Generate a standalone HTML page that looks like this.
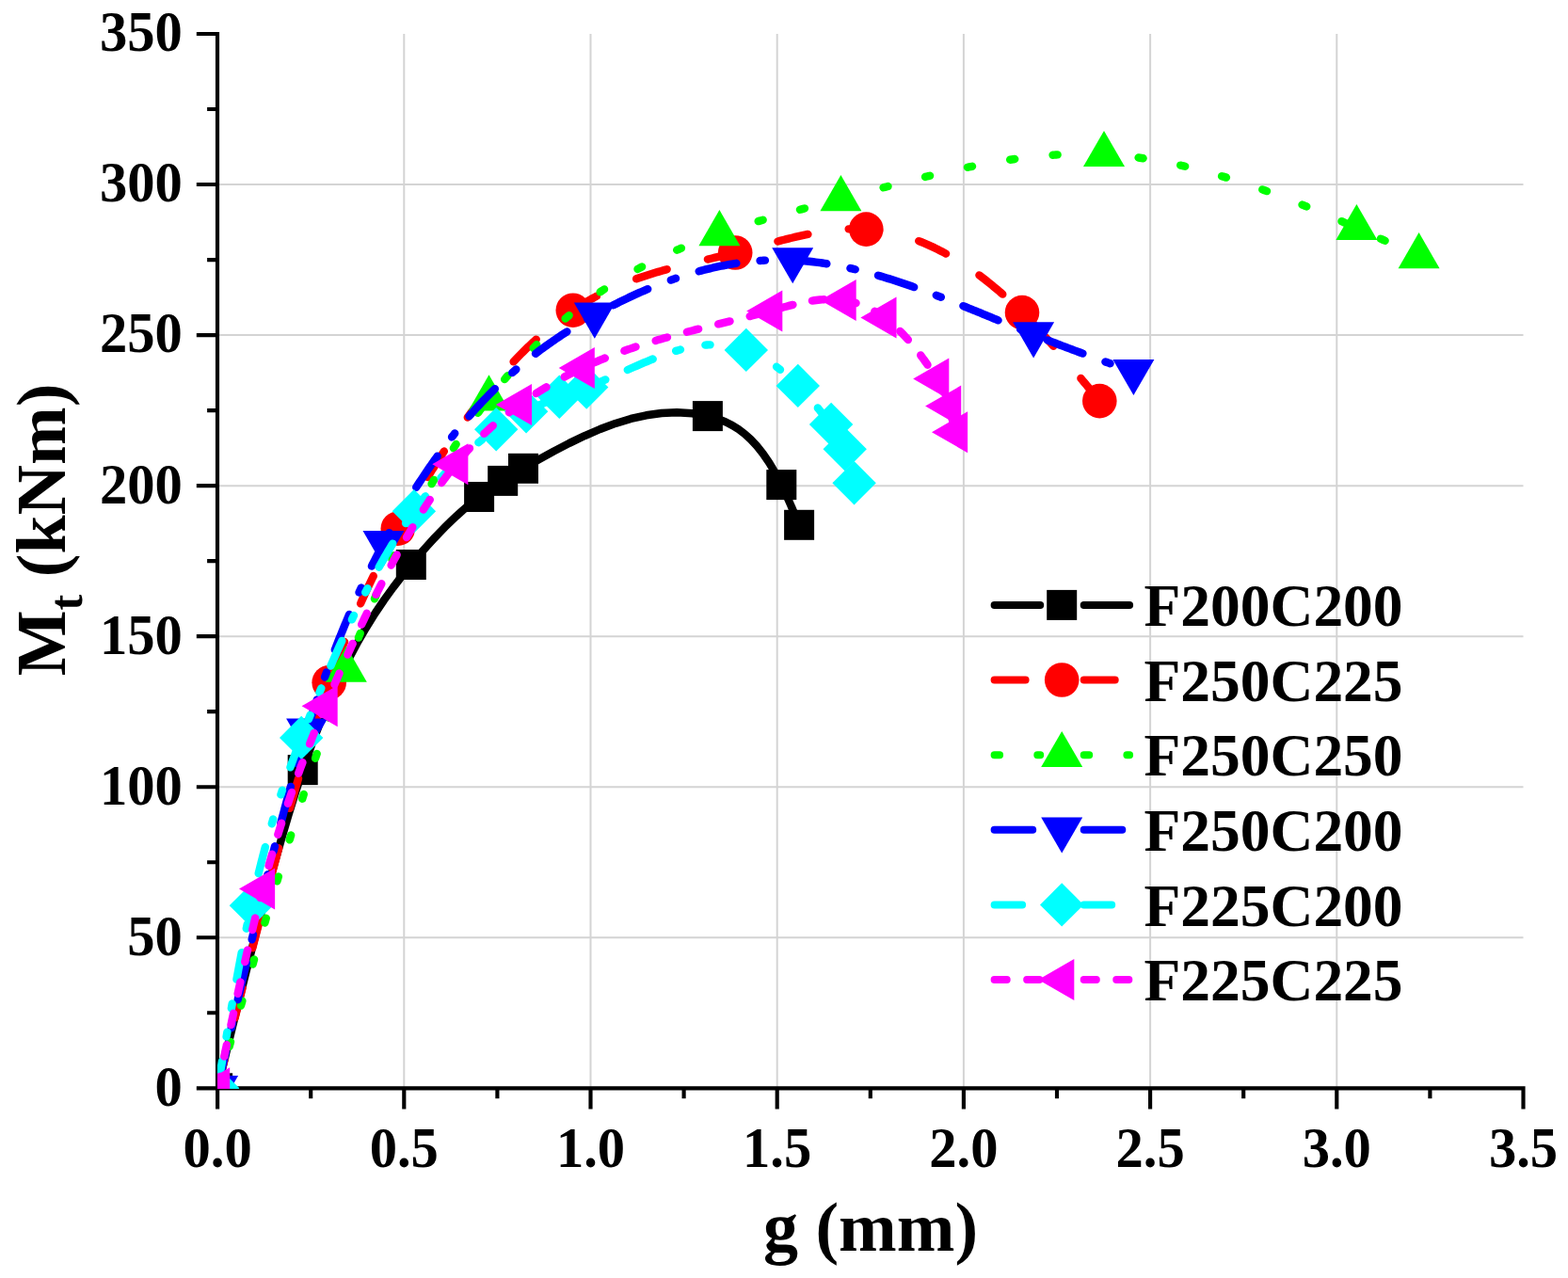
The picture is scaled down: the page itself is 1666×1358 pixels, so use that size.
<!DOCTYPE html>
<html lang="en"><head><meta charset="utf-8"><title>Mt vs g</title>
<style>html,body{margin:0;padding:0;background:#fff}body{width:1666px;height:1358px;overflow:hidden}svg{display:block}text{font-family:"Liberation Serif",serif;font-weight:bold;fill:#000}.tk{font-size:58.6px}.lg{font-size:63.5px}.ti{font-size:74px}</style></head><body>
<svg width="1666" height="1358" viewBox="0 0 1666 1358">
<rect width="1666" height="1358" fill="#fff"/>
<defs><clipPath id="pc"><rect x="231" y="36" width="1387.5" height="1121"/></clipPath></defs>
<path d="M429.3 36 V1156.3 M627.5 36 V1156.3 M825.7 36 V1156.3 M1023.9 36 V1156.3 M1222.1 36 V1156.3 M1420.3 36 V1156.3 M231.1 996.26 H1618.5 M231.1 836.21 H1618.5 M231.1 676.17 H1618.5 M231.1 516.13 H1618.5 M231.1 356.09 H1618.5 M231.1 196.04 H1618.5" stroke="#d4d4d4" stroke-width="2" fill="none"/>
<path d="M231 34 V1158.38 M229.03 1156.3 H1620.58 M231.1 1156.3 V1178.6 M330.2 1156.3 V1167.3 M429.3 1156.3 V1178.6 M528.4 1156.3 V1167.3 M627.5 1156.3 V1178.6 M726.6 1156.3 V1167.3 M825.7 1156.3 V1178.6 M924.8 1156.3 V1167.3 M1023.9 1156.3 V1178.6 M1123 1156.3 V1167.3 M1222.1 1156.3 V1178.6 M1321.2 1156.3 V1167.3 M1420.3 1156.3 V1178.6 M1519.4 1156.3 V1167.3 M1618.5 1156.3 V1178.6 M231.1 1156.3 H208.8 M231.1 1076.28 H220.1 M231.1 996.26 H208.8 M231.1 916.24 H220.1 M231.1 836.21 H208.8 M231.1 756.19 H220.1 M231.1 676.17 H208.8 M231.1 596.15 H220.1 M231.1 516.13 H208.8 M231.1 436.11 H220.1 M231.1 356.09 H208.8 M231.1 276.06 H220.1 M231.1 196.04 H208.8 M231.1 116.02 H220.1 M231.1 36 H208.8" stroke="#000" stroke-width="4.15" fill="none"/>
<text class="tk" transform="translate(231.1,1240.0) scale(1,1.04)" text-anchor="middle">0.0</text>
<text class="tk" transform="translate(429.3,1240.0) scale(1,1.04)" text-anchor="middle">0.5</text>
<text class="tk" transform="translate(627.5,1240.0) scale(1,1.04)" text-anchor="middle">1.0</text>
<text class="tk" transform="translate(825.7,1240.0) scale(1,1.04)" text-anchor="middle">1.5</text>
<text class="tk" transform="translate(1023.9,1240.0) scale(1,1.04)" text-anchor="middle">2.0</text>
<text class="tk" transform="translate(1222.1,1240.0) scale(1,1.04)" text-anchor="middle">2.5</text>
<text class="tk" transform="translate(1420.3,1240.0) scale(1,1.04)" text-anchor="middle">3.0</text>
<text class="tk" transform="translate(1618.5,1240.0) scale(1,1.04)" text-anchor="middle">3.5</text>
<text class="tk" transform="translate(193.8,1174.7) scale(1,1.04)" text-anchor="end">0</text>
<text class="tk" transform="translate(193.8,1014.66) scale(1,1.04)" text-anchor="end">50</text>
<text class="tk" transform="translate(193.8,854.61) scale(1,1.04)" text-anchor="end">100</text>
<text class="tk" transform="translate(193.8,694.57) scale(1,1.04)" text-anchor="end">150</text>
<text class="tk" transform="translate(193.8,534.53) scale(1,1.04)" text-anchor="end">200</text>
<text class="tk" transform="translate(193.8,374.49) scale(1,1.04)" text-anchor="end">250</text>
<text class="tk" transform="translate(193.8,214.44) scale(1,1.04)" text-anchor="end">300</text>
<text class="tk" transform="translate(193.8,54.4) scale(1,1.04)" text-anchor="end">350</text>
<text class="ti" x="925" y="1329.2" text-anchor="middle">g (mm)</text>
<text class="ti" transform="translate(68.7,563) rotate(-90)" text-anchor="middle">M<tspan dy="18" font-size="50px">t</tspan><tspan dy="-18"> (kNm)</tspan></text>
<g clip-path="url(#pc)">
<path d="M231.1 1156.3 L238.65 1125.25 L246.2 1094.31 L253.75 1063.62 L261.3 1033.29 L268.85 1003.44 L276.4 974.19 L283.95 945.67 L291.5 917.99 L299.05 891.27 L306.6 865.63 L314.15 841.2 L321.7 818.1 L331.29 790.78 L340.88 765.64 L350.48 742.52 L360.07 721.27 L369.66 701.74 L379.25 683.76 L388.84 667.19 L398.43 651.87 L408.02 637.65 L417.62 624.37 L427.21 611.87 L436.8 600 L442.82 592.81 L448.85 585.81 L454.88 579.01 L460.9 572.42 L466.93 566.05 L472.95 559.9 L478.98 553.97 L485 548.28 L491.03 542.83 L497.05 537.63 L503.08 532.68 L509.1 528 L511.19 526.44 L513.28 524.9 L515.38 523.4 L517.47 521.92 L519.56 520.47 L521.65 519.04 L523.74 517.64 L525.83 516.25 L527.93 514.89 L530.02 513.54 L532.11 512.22 L534.2 510.9 L536.02 509.77 L537.83 508.65 L539.65 507.53 L541.47 506.43 L543.28 505.33 L545.1 504.24 L546.92 503.15 L548.73 502.07 L550.55 501 L552.37 499.93 L554.18 498.86 L556 497.8 L572.33 488.4 L588.65 479.37 L604.98 470.86 L621.3 463.02 L637.62 455.99 L653.95 449.92 L670.27 444.97 L686.6 441.28 L702.92 439 L719.25 438.28 L735.58 439.26 L751.9 442.1 L758.43 443.81 L764.97 445.94 L771.5 448.62 L778.03 451.95 L784.57 456.03 L791.1 460.99 L797.63 466.92 L804.17 473.94 L810.7 482.16 L817.23 491.69 L823.77 502.63 L830.3 515.1 L831.87 518.33 L833.43 521.64 L835 525.03 L836.57 528.5 L838.13 532.02 L839.7 535.6 L841.27 539.23 L842.83 542.9 L844.4 546.6 L845.97 550.32 L847.53 554.05 L849.1 557.8" stroke="#000000" stroke-width="8.4" fill="none" stroke-linecap="round" stroke-linejoin="round"/>
<rect x="215.1" y="1140.3" width="32" height="32" fill="#000000"/>
<rect x="305.7" y="802.1" width="32" height="32" fill="#000000"/>
<rect x="420.8" y="584" width="32" height="32" fill="#000000"/>
<rect x="493.1" y="512" width="32" height="32" fill="#000000"/>
<rect x="518.2" y="494.9" width="32" height="32" fill="#000000"/>
<rect x="540" y="481.8" width="32" height="32" fill="#000000"/>
<rect x="735.9" y="426.1" width="32" height="32" fill="#000000"/>
<rect x="814.3" y="499.1" width="32" height="32" fill="#000000"/>
<rect x="833.1" y="541.8" width="32" height="32" fill="#000000"/>
<path d="M231.1 1156.3 L231.66 1154.03 L232.22 1151.76 L232.79 1149.48 L233.35 1147.21 L233.91 1144.94 L234.47 1142.67 L235.03 1140.39 L235.6 1138.12 L236.16 1135.85 L236.72 1133.58 L237.28 1131.3 L237.85 1129.03 L238.41 1126.76 L238.97 1124.49 M249.58 1081.75 L250.15 1079.48 L250.71 1077.21 L251.28 1074.94 L251.85 1072.67 L252.41 1070.4 L252.98 1068.13 L253.55 1065.86 L254.12 1063.59 L254.68 1061.31 L255.25 1059.04 L255.82 1056.77 L256.39 1054.5 L256.96 1052.23 L257.53 1049.96 M268.33 1007.27 L268.9 1005.01 L269.48 1002.74 L270.06 1000.47 L270.64 998.2 L271.22 995.94 L271.8 993.67 L272.39 991.4 L272.97 989.13 L273.55 986.87 L274.14 984.6 L274.72 982.33 L275.3 980.07 L275.89 977.8 L276.48 975.53 M287.64 932.94 L288.24 930.68 L288.84 928.42 L289.44 926.15 L290.05 923.89 L290.65 921.63 L291.26 919.37 L291.87 917.11 L292.47 914.85 L293.08 912.59 L293.69 910.33 L294.3 908.07 L294.92 905.81 L295.53 903.55 L296.14 901.29 M307.91 858.86 L308.55 856.61 L309.19 854.36 L309.84 852.11 L310.48 849.86 L311.12 847.61 L311.77 845.36 L312.42 843.11 L313.07 840.86 L313.72 838.61 L314.37 836.36 L315.03 834.12 L315.68 831.87 L316.34 829.62 L317 827.38 M329.77 785.24 L330.47 783.01 L331.17 780.77 L331.88 778.54 L332.58 776.31 L333.29 774.08 L334.01 771.85 L334.72 769.62 L335.44 767.39 L336.16 765.17 L336.89 762.94 L337.61 760.71 L338.34 758.49 L339.08 756.27 L339.81 754.04 M354.3 712.47 L355.1 710.27 L355.92 708.07 L356.73 705.88 L357.56 703.69 L358.38 701.5 L359.21 699.31 L360.04 697.12 L360.88 694.94 L361.73 692.75 L362.57 690.57 L363.43 688.39 L364.28 686.21 L365.14 684.04 L366.01 681.86 M383.12 641.36 L384.14 639.09 L385.16 636.82 L386.19 634.56 L387.22 632.3 L388.26 630.04 L389.31 627.79 L390.36 625.53 L391.41 623.28 L392.47 621.03 L393.54 618.79 L394.61 616.55 L395.69 614.3 L396.77 612.07 M416.6 573.17 L417.7 571.12 L418.8 569.08 L419.9 567.03 L421.01 564.99 L422.12 562.95 L423.23 560.91 L424.35 558.87 L425.47 556.84 L426.59 554.81 L427.72 552.78 L428.85 550.75 L429.98 548.72 L431.12 546.69 L432.26 544.67 M454.4 507.01 L455.62 505.03 L456.84 503.06 L458.06 501.08 L459.29 499.11 L460.53 497.14 L461.76 495.18 L463.01 493.21 L464.25 491.25 L465.5 489.3 L466.76 487.34 L468.02 485.39 L469.28 483.44 L470.55 481.5 L471.83 479.55 M496.82 443.5 L498.2 441.62 L499.59 439.75 L500.98 437.87 L502.38 436.01 L503.78 434.15 L505.2 432.29 L506.61 430.43 L508.04 428.59 L509.47 426.74 L510.9 424.9 L512.34 423.07 L513.79 421.24 L515.25 419.41 L516.71 417.6 M545.61 384.35 L547.28 382.6 L548.95 380.85 L550.63 379.11 L552.32 377.38 L554.02 375.66 L555.73 373.94 L557.44 372.24 L559.17 370.55 L560.91 368.86 L562.65 367.19 L564.41 365.52 L566.17 363.86 L567.94 362.22 L569.73 360.58 M605.11 332.22 L607.1 330.85 L609.1 329.5 L611.11 328.17 L613.13 326.85 L615.16 325.56 L617.21 324.28 L619.26 323.01 L621.33 321.77 L623.41 320.54 L625.49 319.33 L627.59 318.14 L629.7 316.97 L631.82 315.81 L633.94 314.67 M676.13 296.3 L678.42 295.49 L680.72 294.7 L683.02 293.92 L685.33 293.16 L687.65 292.41 L689.96 291.68 L692.29 290.95 L694.61 290.24 L696.94 289.55 L699.27 288.86 L701.61 288.19 L703.95 287.52 L706.29 286.87 L708.63 286.22 M751.95 275.54 L754.24 275.01 L756.52 274.48 L758.8 273.94 L761.08 273.4 L763.36 272.86 L765.64 272.32 L767.92 271.77 L770.2 271.22 L772.47 270.67 L774.75 270.11 L777.02 269.55 L779.3 268.98 L781.57 268.41 L783.84 267.83 M826.43 256.47 L828.71 255.88 L830.98 255.3 L833.25 254.72 L835.53 254.15 L837.81 253.59 L840.09 253.03 L842.37 252.48 L844.66 251.94 L846.94 251.42 L849.23 250.9 L851.52 250.39 L853.82 249.9 L856.11 249.41 L858.41 248.94 M901.68 243.41 L904 243.33 L906.32 243.28 L908.65 243.26 L910.97 243.27 L913.3 243.31 L915.62 243.37 L917.95 243.47 L920.27 243.6 L922.59 243.76 L924.91 243.95 L927.22 244.17 L929.53 244.42 L931.84 244.7 L934.14 245.02 M976.25 256.14 L978.53 257.03 L980.8 257.95 L983.06 258.89 L985.31 259.86 L987.54 260.85 L989.77 261.86 L991.99 262.9 L994.19 263.96 L996.39 265.04 L998.57 266.14 L1000.75 267.27 L1002.91 268.41 L1005.06 269.58 M1040.4 292.43 L1042.37 293.91 L1044.33 295.41 L1046.29 296.91 L1048.23 298.43 L1050.16 299.97 L1052.09 301.51 L1054 303.07 L1055.9 304.64 L1057.8 306.22 L1059.68 307.82 L1061.56 309.42 L1063.42 311.04 L1065.28 312.67 M1097.05 343.4 L1098.67 345.11 L1100.29 346.82 L1101.9 348.54 L1103.5 350.27 L1105.1 351.99 L1106.69 353.73 L1108.28 355.47 L1109.87 357.21 L1111.44 358.96 L1113.02 360.71 L1114.59 362.47 L1116.15 364.23 L1117.71 365.99 L1119.27 367.76 M1148.41 402 L1149.95 403.85 L1151.48 405.7 L1153.02 407.55 L1154.55 409.4 L1156.08 411.25 L1157.61 413.11 L1159.14 414.96 L1160.66 416.82 L1162.19 418.67 L1163.72 420.53 L1165.25 422.39 L1166.77 424.24 L1168.3 426.1" stroke="#ff0000" stroke-width="8.4" fill="none" stroke-linecap="round" stroke-linejoin="round"/>
<circle cx="231.1" cy="1156.3" r="18.3" fill="#ff0000"/>
<circle cx="349.7" cy="725.2" r="18.3" fill="#ff0000"/>
<circle cx="422.8" cy="561.7" r="18.3" fill="#ff0000"/>
<circle cx="608.8" cy="329.7" r="18.3" fill="#ff0000"/>
<circle cx="781.2" cy="268.5" r="18.3" fill="#ff0000"/>
<circle cx="920.3" cy="243.6" r="18.3" fill="#ff0000"/>
<circle cx="1086" cy="332.1" r="18.3" fill="#ff0000"/>
<circle cx="1168.3" cy="426.1" r="18.3" fill="#ff0000"/>
<path d="M231.1 1156.3 L231.57 1154.65 L232.03 1153.01 L232.5 1151.36 M243.63 1112.03 L244.09 1110.4 L244.56 1108.76 L245.02 1107.13 M256.01 1068.48 L256.47 1066.85 L256.94 1065.22 L257.4 1063.6 M268.62 1024.47 L269.09 1022.84 L269.56 1021.2 L270.03 1019.57 M281.35 980.59 L281.83 978.95 L282.31 977.32 L282.79 975.68 M294.41 936.34 L294.9 934.7 L295.39 933.06 L295.88 931.42 M307.69 892.36 L308.19 890.73 L308.69 889.11 L309.18 887.48 M321.21 848.86 L321.72 847.25 L322.23 845.64 L322.74 844.02 M335.08 805.77 L335.61 804.17 L336.14 802.56 L336.66 800.96 M349.56 762.76 L350.11 761.17 L350.66 759.57 L351.21 757.98 M364.77 720 L365.35 718.42 L365.93 716.84 L366.52 715.25 M380.93 677.6 L381.55 676.04 L382.17 674.49 L382.79 672.93 M397.95 636.31 L398.61 634.78 L399.28 633.25 L399.94 631.71 M416.57 594.86 L417.29 593.33 L418.01 591.8 L418.74 590.27 M436.72 554.06 L437.5 552.56 L438.28 551.06 L439.07 549.56 M458.59 514.15 L459.84 511.99 L461.1 509.84 M481.89 476.19 L482.8 474.8 L483.71 473.4 L484.63 472.01 M507.83 438.82 L508.84 437.46 L509.86 436.1 L510.87 434.74 M536.15 403.1 L537.24 401.82 L538.33 400.54 L539.43 399.26 M566.61 369.87 L567.81 368.66 L569.02 367.46 L570.22 366.26 M600.66 338.46 L601.98 337.35 L603.31 336.24 L604.64 335.14 M637.68 310.31 L639.11 309.33 L640.55 308.36 L641.99 307.39 M677.52 285.93 L679.04 285.1 L680.56 284.28 L682.09 283.47 M719.18 265.71 L720.76 265.04 L722.34 264.37 L723.91 263.7 M761.99 249.14 L763.6 248.58 L765.22 248.02 L766.83 247.46 M805.69 235.13 L807.33 234.65 L808.97 234.17 L810.61 233.69 M849.96 222.76 L851.6 222.32 L853.25 221.88 L854.9 221.44 M894.27 211.07 L895.92 210.63 L897.57 210.2 L899.22 209.76 M938.57 199.31 L940.22 198.88 L941.87 198.44 L943.52 198.01 M983.08 187.94 L984.74 187.54 L986.4 187.14 L988.06 186.74 M1027.98 177.78 L1029.65 177.44 L1031.33 177.1 L1033.01 176.76 M1073.16 169.74 L1074.85 169.49 L1076.53 169.25 L1078.22 169.01 M1118.55 164.75 L1120.25 164.64 L1121.94 164.53 L1123.64 164.42 M1164.15 163.75 L1165.84 163.8 L1167.54 163.86 L1169.23 163.93 M1209.59 167.51 L1211.26 167.74 L1212.94 167.98 L1214.61 168.22 M1254.22 175.59 L1255.86 175.97 L1257.51 176.34 L1259.15 176.73 M1298.1 187.15 L1299.72 187.64 L1301.34 188.13 L1302.95 188.62 M1341.28 201.4 L1342.87 201.98 L1344.45 202.55 L1346.04 203.13 M1383.55 217.56 L1385.12 218.2 L1386.68 218.83 L1388.24 219.47 M1425.53 235.22 L1427.08 235.9 L1428.63 236.57 L1430.18 237.25 M1466.98 253.7 L1468.52 254.4 L1470.07 255.1 L1471.61 255.8" stroke="#00ff00" stroke-width="8.4" fill="none" stroke-linecap="round" stroke-linejoin="round"/>
<polygon points="231.1,1131.1 209.1,1169.2 253.1,1169.2" fill="#00ff00"/>
<polygon points="367.8,686.6 345.8,724.7 389.8,724.7" fill="#00ff00"/>
<polygon points="519.5,398.3 497.5,436.4 541.5,436.4" fill="#00ff00"/>
<polygon points="764.4,223.1 742.4,261.2 786.4,261.2" fill="#00ff00"/>
<polygon points="893.4,186.1 871.4,224.2 915.4,224.2" fill="#00ff00"/>
<polygon points="1173,138.9 1151,177 1195,177" fill="#00ff00"/>
<polygon points="1441.4,217 1419.4,255.1 1463.4,255.1" fill="#00ff00"/>
<polygon points="1507.6,247.1 1485.6,285.2 1529.6,285.2" fill="#00ff00"/>
<path d="M231.1 1156.3 L231.63 1153.99 L232.15 1151.69 L232.68 1149.38 L233.21 1147.08 L233.73 1144.77 L234.26 1142.47 L234.79 1140.16 L235.31 1137.85 L235.84 1135.55 L236.37 1133.24 L236.9 1130.94 L237.42 1128.63 L237.95 1126.33 L238.48 1124.02 L239 1121.72 L239.53 1119.41 L240.06 1117.11 M245.75 1092.3 L246.15 1090.54 L246.56 1088.79 L246.96 1087.03 M252.68 1062.23 L253.22 1059.93 L253.75 1057.62 L254.29 1055.32 L254.82 1053.02 L255.36 1050.71 L255.89 1048.41 L256.43 1046.1 L256.96 1043.8 L257.5 1041.5 L258.04 1039.19 L258.58 1036.89 L259.11 1034.59 L259.65 1032.29 L260.19 1029.98 L260.73 1027.68 L261.27 1025.38 L261.81 1023.07 M267.66 998.3 L268.08 996.55 L268.5 994.8 L268.91 993.05 M274.85 968.3 L275.41 966 L275.97 963.7 L276.53 961.4 L277.08 959.1 L277.64 956.81 L278.2 954.51 L278.77 952.21 L279.33 949.91 L279.89 947.62 L280.46 945.32 L281.02 943.02 L281.59 940.73 L282.15 938.43 L282.72 936.14 L283.29 933.84 L283.86 931.54 L284.43 929.25 M290.64 904.57 L291.09 902.82 L291.53 901.08 L291.98 899.33 M298.37 874.69 L298.97 872.41 L299.57 870.12 L300.18 867.83 L300.79 865.55 L301.4 863.26 L302.01 860.98 L302.62 858.69 L303.23 856.41 L303.85 854.13 L304.46 851.84 L305.08 849.56 L305.7 847.28 L306.33 845 L306.95 842.72 L307.58 840.43 L308.2 838.15 L308.83 835.88 M315.75 811.38 L316.25 809.65 L316.75 807.92 L317.26 806.19 M324.53 781.8 L325.22 779.54 L325.92 777.28 L326.62 775.02 L327.32 772.76 L328.03 770.51 L328.74 768.25 L329.45 765.99 L330.17 763.74 L330.89 761.49 L331.62 759.24 L332.34 756.99 L333.07 754.74 L333.81 752.49 L334.55 750.24 L335.29 748 L336.04 745.75 L336.79 743.51 M345.1 719.45 L345.7 717.76 L346.31 716.06 L346.92 714.37 M355.83 690.5 L356.69 688.28 L357.55 686.06 L358.42 683.84 L359.29 681.62 L360.17 679.4 L361.06 677.19 L361.94 674.98 L362.84 672.77 L363.73 670.56 L364.64 668.35 L365.54 666.15 L366.46 663.95 L367.37 661.75 L368.3 659.55 L369.22 657.35 L370.16 655.16 L371.09 652.97 M381.53 629.5 L382.29 627.86 L383.05 626.21 L383.81 624.57 M394.93 601.58 L395.98 599.47 L397.05 597.37 L398.11 595.27 L399.19 593.17 L400.26 591.07 L401.35 588.98 L402.44 586.88 L403.53 584.79 L404.63 582.71 L405.73 580.62 L406.84 578.54 L407.95 576.46 L409.07 574.39 L410.19 572.31 L411.32 570.24 L412.45 568.17 L413.59 566.11 M426.15 544.06 L427.06 542.52 L427.98 540.97 L428.9 539.43 M442.25 517.85 L443.52 515.86 L444.8 513.88 L446.09 511.91 L447.38 509.94 L448.68 507.97 L449.99 506.01 L451.3 504.05 L452.62 502.09 L453.95 500.14 L455.28 498.2 L456.62 496.26 L457.96 494.32 L459.31 492.39 L460.67 490.46 L462.04 488.54 L463.41 486.62 L464.79 484.71 M480.07 464.45 L481.12 463.12 L482.18 461.79 L483.24 460.46 M498.46 442.26 L500.1 440.39 L501.75 438.52 L503.42 436.66 L505.09 434.81 L506.77 432.97 L508.46 431.13 L510.15 429.3 L511.86 427.49 L513.58 425.67 L515.3 423.87 L517.03 422.08 L518.78 420.29 L520.53 418.52 L522.29 416.75 L524.05 414.99 L525.83 413.24 M544.26 396.13 L545.63 394.92 L547.01 393.73 L548.39 392.53 M568.99 375.82 L570.9 374.37 L572.82 372.92 L574.75 371.49 L576.68 370.06 L578.62 368.65 L580.57 367.25 L582.52 365.85 L584.48 364.47 L586.45 363.09 L588.42 361.72 L590.41 360.37 L592.39 359.02 L594.39 357.69 L596.39 356.36 L598.4 355.04 L600.41 353.73 L602.43 352.44 M624.35 339.13 L625.92 338.23 L627.49 337.33 L629.06 336.44 M651.6 324.29 L653.72 323.21 L655.84 322.14 L657.97 321.08 L660.1 320.02 L662.24 318.98 L664.38 317.94 L666.52 316.91 L668.67 315.89 L670.83 314.89 L672.99 313.89 L675.15 312.9 L677.32 311.92 L679.49 310.95 L681.67 309.99 L683.85 309.04 L686.03 308.1 L688.22 307.17 M712.82 297.62 L714.56 297 L716.3 296.4 L718.04 295.8 M742.68 288.25 L744.99 287.63 L747.3 287.02 L749.62 286.43 L751.94 285.86 L754.27 285.3 L756.6 284.75 L758.93 284.22 L761.27 283.71 L763.61 283.21 L765.95 282.73 L768.29 282.26 L770.64 281.81 L773 281.38 L775.35 280.96 L777.71 280.56 L780.07 280.18 L782.43 279.81 M807.54 276.99 L809.33 276.87 L811.11 276.76 L812.9 276.66 M838.35 276.35 L840.71 276.44 L843.07 276.54 L845.44 276.66 L847.8 276.8 L850.16 276.96 L852.51 277.14 L854.87 277.33 L857.23 277.55 L859.58 277.78 L861.93 278.03 L864.28 278.29 L866.63 278.57 L868.98 278.87 L871.32 279.19 L873.66 279.52 L876 279.86 L878.34 280.23 M903.42 285.06 L905.17 285.45 L906.91 285.86 L908.66 286.27 M933.02 292.72 L935.28 293.39 L937.54 294.06 L939.8 294.74 L942.05 295.43 L944.31 296.13 L946.55 296.83 L948.8 297.55 L951.05 298.27 L953.29 299 L955.53 299.74 L957.76 300.48 L960 301.24 L962.23 302 L964.46 302.76 L966.69 303.53 L968.92 304.31 L971.14 305.1 M994.79 313.83 L996.46 314.47 L998.13 315.11 L999.8 315.75 M1023.41 325.11 L1025.6 325.99 L1027.79 326.88 L1029.98 327.77 L1032.16 328.66 L1034.35 329.55 L1036.53 330.44 L1038.72 331.34 L1040.9 332.24 L1043.08 333.13 L1045.27 334.03 L1047.45 334.93 L1049.63 335.83 L1051.81 336.73 L1054 337.63 L1056.18 338.52 L1058.36 339.42 L1060.54 340.32 M1084.1 349.97 L1085.77 350.65 L1087.44 351.32 L1089.11 352 M1112.79 361.37 L1114.99 362.23 L1117.2 363.08 L1119.41 363.93 L1121.62 364.78 L1123.83 365.62 L1126.04 366.47 L1128.25 367.31 L1130.46 368.15 L1132.68 368.99 L1134.89 369.82 L1137.1 370.66 L1139.32 371.49 L1141.53 372.32 L1143.75 373.15 L1145.97 373.97 L1148.19 374.8 L1150.4 375.62 M1174.42 384.44 L1176.12 385.06 L1177.82 385.67 L1179.51 386.29 M1203.44 394.95 L1204.4 395.3" stroke="#0000ff" stroke-width="8.4" fill="none" stroke-linecap="round" stroke-linejoin="round"/>
<polygon points="231.1,1181.1 209.1,1143 253.1,1143" fill="#0000ff"/>
<polygon points="326.1,801.5 304.1,763.4 348.1,763.4" fill="#0000ff"/>
<polygon points="407.5,602.1 385.5,564 429.5,564" fill="#0000ff"/>
<polygon points="631.8,359.7 609.8,321.6 653.8,321.6" fill="#0000ff"/>
<polygon points="842.2,301.3 820.2,263.2 864.2,263.2" fill="#0000ff"/>
<polygon points="1098.1,380.4 1076.1,342.3 1120.1,342.3" fill="#0000ff"/>
<polygon points="1204.4,420.1 1182.4,382 1226.4,382" fill="#0000ff"/>
<path d="M231.1 1156.3 L231.51 1153.89 L231.93 1151.47 L232.34 1149.06 L232.76 1146.65 L233.17 1144.23 L233.59 1141.82 L234 1139.41 L234.42 1136.99 L234.83 1134.58 L235.25 1132.17 L235.66 1129.75 L236.08 1127.34 M240.54 1101.62 L240.96 1099.2 L241.38 1096.78 M245.85 1071.41 L246.28 1068.98 L246.72 1066.55 M251.41 1040.67 L251.85 1038.29 L252.29 1035.91 L252.73 1033.53 L253.17 1031.15 L253.61 1028.78 L254.06 1026.4 L254.51 1024.02 L254.96 1021.64 L255.41 1019.26 L255.86 1016.89 L256.31 1014.51 L256.77 1012.13 M261.78 986.7 L262.26 984.34 L262.74 981.97 M267.96 957.34 L268.47 955.01 L268.99 952.68 M274.71 928.09 L275.28 925.74 L275.85 923.4 L276.43 921.06 L277.02 918.71 L277.61 916.37 L278.2 914.03 L278.8 911.7 L279.4 909.36 L280.01 907.02 L280.62 904.69 L281.23 902.35 L281.86 900.02 M288.78 875.3 L289.48 872.92 L290.19 870.53 M298.39 844.38 L299.17 842.02 L299.95 839.66 M308.41 815.33 L309.24 813.06 L310.06 810.79 L310.89 808.52 L311.73 806.25 L312.57 803.99 L313.42 801.72 L314.26 799.46 L315.12 797.2 L315.97 794.94 L316.83 792.68 L317.69 790.42 L318.56 788.17 M327.93 764.17 L328.83 761.91 L329.73 759.64 M339.44 735.78 L340.38 733.53 L341.32 731.27 M351.42 707.57 L352.39 705.34 L353.37 703.11 L354.35 700.88 L355.33 698.65 L356.32 696.43 L357.31 694.21 L358.3 691.99 L359.29 689.77 L360.29 687.55 L361.3 685.33 L362.3 683.12 L363.31 680.9 M373.89 658.35 L374.95 656.15 L376.01 653.97 M388.25 629.49 L389.38 627.31 L390.51 625.14 M402.63 602.69 L403.81 600.59 L404.99 598.49 L406.18 596.39 L407.38 594.3 L408.58 592.21 L409.8 590.13 L411.01 588.05 L412.24 585.97 L413.47 583.9 L414.71 581.83 L415.95 579.76 L417.21 577.7 M431.07 556.02 L432.44 554 L433.81 551.99 M448.93 531.16 L450.43 529.23 L451.93 527.31 M468.54 507.65 L470.17 505.86 L471.8 504.09 L473.45 502.33 L475.12 500.57 L476.79 498.83 L478.48 497.1 L480.17 495.39 L481.89 493.68 L483.61 491.99 L485.34 490.31 L487.09 488.64 L488.85 486.99 M508.34 470.19 L510.26 468.68 L512.19 467.18 M533.19 452.31 L535.24 450.99 L537.3 449.68 M559.65 436.92 L561.8 435.83 L563.96 434.75 L566.13 433.69 L568.31 432.65 L570.5 431.63 L572.7 430.63 L574.9 429.64 L577.11 428.68 L579.33 427.73 L581.56 426.79 L583.79 425.87 L586.03 424.97 M610.22 416.16 L612.52 415.35 L614.82 414.54 M638.82 405.25 L641.07 404.3 L643.31 403.34 M666.81 392.97 L669.03 391.99 L671.26 391 L673.49 390.02 L675.72 389.04 L677.96 388.07 L680.2 387.11 L682.44 386.15 L684.68 385.2 L686.93 384.26 L689.18 383.33 L691.44 382.41 L693.7 381.5 M718.15 372.89 L720.55 372.19 L722.96 371.53 M749.38 366.66 L751.1 366.53 L752.82 366.42 L754.55 366.33 M780.94 368.5 L783.29 369.04 L785.62 369.64 L787.93 370.3 L790.23 371.02 L792.51 371.8 L794.77 372.63 L797 373.51 L799.22 374.45 L801.42 375.43 L803.59 376.47 M825.07 389.77 L827.04 391.27 L828.98 392.8 M848.26 410.37 L849.98 412.15 L851.68 413.95 M868.86 433.54 L870.41 435.41 L871.95 437.28 L873.49 439.15 L875.03 441.03 L876.56 442.91 L878.09 444.79 L879.61 446.68 L881.14 448.56 L882.66 450.45 L884.18 452.34 L885.68 454.25 L887.14 456.18 M898.41 479.32 L899.16 481.65 L899.87 484 M906.52 508.97 L907.06 511.14 L907.6 513.3" stroke="#00ffff" stroke-width="8.4" fill="none" stroke-linecap="round" stroke-linejoin="round"/>
<polygon points="207.9,1156.3 231.1,1133.1 254.3,1156.3 231.1,1179.5" fill="#00ffff"/>
<polygon points="243.7,962.2 266.9,939 290.1,962.2 266.9,985.4" fill="#00ffff"/>
<polygon points="297,783.9 320.2,760.7 343.4,783.9 320.2,807.1" fill="#00ffff"/>
<polygon points="416.7,543.3 439.9,520.1 463.1,543.3 439.9,566.5" fill="#00ffff"/>
<polygon points="504,456.3 527.2,433.1 550.4,456.3 527.2,479.5" fill="#00ffff"/>
<polygon points="535.9,437.2 559.1,414 582.3,437.2 559.1,460.4" fill="#00ffff"/>
<polygon points="571.1,421.8 594.3,398.6 617.5,421.8 594.3,445" fill="#00ffff"/>
<polygon points="600,411.5 623.2,388.3 646.4,411.5 623.2,434.7" fill="#00ffff"/>
<polygon points="769.6,371.9 792.8,348.7 816,371.9 792.8,395.1" fill="#00ffff"/>
<polygon points="824.6,409.9 847.8,386.7 871,409.9 847.8,433.1" fill="#00ffff"/>
<polygon points="859.9,451 883.1,427.8 906.3,451 883.1,474.2" fill="#00ffff"/>
<polygon points="874.5,477.2 897.7,454 920.9,477.2 897.7,500.4" fill="#00ffff"/>
<polygon points="884.4,513.3 907.6,490.1 930.8,513.3 907.6,536.5" fill="#00ffff"/>
<path d="M231.1 1156.3 L231.54 1154.23 L231.98 1152.17 L232.41 1150.1 L232.85 1148.03 L233.29 1145.97 L233.73 1143.9 M238.25 1122.57 L238.69 1120.51 L239.13 1118.45 L239.57 1116.39 L240 1114.34 L240.44 1112.28 L240.88 1110.22 M245.42 1089.06 L245.86 1087.02 L246.3 1084.98 L246.74 1082.94 L247.18 1080.9 L247.62 1078.86 L248.06 1076.82 M252.64 1055.87 L253.1 1053.81 L253.55 1051.76 L254.01 1049.7 L254.46 1047.64 L254.92 1045.59 L255.38 1043.53 M260.22 1022.03 L260.69 1019.94 L261.17 1017.86 L261.65 1015.78 L262.12 1013.69 L262.6 1011.61 L263.09 1009.53 M268.14 988.05 L268.64 985.96 L269.14 983.88 L269.64 981.8 L270.14 979.71 L270.65 977.63 L271.16 975.55 M276.55 953.98 L277.08 951.89 L277.62 949.81 L278.16 947.72 L278.7 945.64 L279.25 943.55 L279.8 941.47 M285.62 920.01 L286.2 917.96 L286.77 915.91 L287.35 913.87 L287.94 911.82 L288.52 909.77 L289.11 907.72 M295.32 886.84 L295.94 884.82 L296.57 882.79 L297.19 880.77 L297.82 878.75 L298.46 876.73 L299.1 874.71 M305.91 853.83 L306.58 851.84 L307.25 849.85 L307.92 847.87 L308.6 845.88 L309.29 843.9 L309.97 841.91 M317.15 821.79 L318.01 819.47 L318.86 817.15 L319.73 814.84 L320.59 812.52 L321.46 810.21 M329.09 790.47 L330.01 788.15 L330.93 785.83 L331.86 783.52 L332.79 781.2 L333.72 778.88 M342.01 758.76 L342.82 756.81 L343.63 754.87 L344.45 752.92 L345.27 750.98 L346.09 749.04 L346.91 747.1 M355.48 727.09 L356.32 725.15 L357.16 723.22 L358 721.29 L358.84 719.35 L359.69 717.42 L360.54 715.49 M369.38 695.6 L370.26 693.64 L371.15 691.69 L372.03 689.73 L372.92 687.78 L373.81 685.82 L374.71 683.87 M384.18 663.49 L385.1 661.54 L386.03 659.58 L386.96 657.63 L387.89 655.68 L388.83 653.73 L389.76 651.78 M399.54 631.84 L400.5 629.92 L401.46 627.99 L402.43 626.07 L403.4 624.15 L404.38 622.23 L405.36 620.32 M415.64 600.61 L416.63 598.76 L417.62 596.92 L418.61 595.07 L419.61 593.23 L420.62 591.39 L421.62 589.55 M432.04 571.01 L433.09 569.2 L434.13 567.4 L435.19 565.6 L436.24 563.8 L437.3 562.01 L438.37 560.22 M449.84 541.57 L450.98 539.79 L452.13 538.01 L453.28 536.23 L454.44 534.46 L455.6 532.69 L456.77 530.93 M469.19 512.99 L470.44 511.28 L471.69 509.58 L472.95 507.88 L474.21 506.18 L475.49 504.5 L476.77 502.82 M490.53 485.88 L491.91 484.28 L493.31 482.69 L494.71 481.11 L496.12 479.54 L497.55 477.98 L498.98 476.43 M514.33 460.92 L515.88 459.46 L517.45 458.01 L519.02 456.57 L520.6 455.14 L522.19 453.72 L523.79 452.31 M540.95 438.23 L542.65 436.92 L544.37 435.62 L546.09 434.34 L547.82 433.06 L549.56 431.79 L551.3 430.53 M569.65 418.05 L571.46 416.9 L573.27 415.76 L575.08 414.63 L576.9 413.5 L578.73 412.39 L580.56 411.29 M599.7 400.49 L601.59 399.49 L603.48 398.51 L605.37 397.53 L607.27 396.57 L609.17 395.61 L611.08 394.67 M631.03 385.44 L632.98 384.59 L634.94 383.76 L636.9 382.93 L638.87 382.12 L640.84 381.31 L642.81 380.51 M663.37 372.74 L665.39 372.02 L667.41 371.32 L669.43 370.62 L671.45 369.93 L673.48 369.25 L675.51 368.58 M696.68 361.96 L698.72 361.35 L700.76 360.76 L702.8 360.17 L704.84 359.58 L706.89 359 L708.93 358.43 M729.9 352.78 L731.94 352.25 L733.98 351.72 L736.02 351.2 L738.06 350.68 L740.09 350.16 L742.13 349.65 M763.21 344.41 L765.26 343.9 L767.31 343.4 L769.35 342.89 L771.4 342.39 L773.45 341.88 L775.5 341.38 M796.71 336.07 L798.76 335.54 L800.81 335.01 L802.86 334.48 L804.91 333.95 L806.96 333.41 L809.01 332.87 M830.1 327.12 L832.15 326.56 L834.19 326.01 L836.24 325.46 L838.29 324.92 L840.34 324.39 L842.39 323.87 M862.96 319.58 L865.04 319.27 L867.13 318.99 L869.22 318.74 L871.32 318.52 L873.41 318.34 L875.52 318.19 M897.2 319.09 L899.28 319.45 L901.34 319.86 L903.4 320.31 L905.45 320.82 L907.48 321.37 L909.5 321.97 M929.33 330.79 L931.14 331.87 L932.93 332.98 L934.7 334.12 L936.44 335.3 L938.17 336.51 L939.87 337.75 M956.31 351.96 L958.06 353.73 L959.8 355.52 L961.51 357.33 L963.19 359.17 L964.86 361.02 M978.22 377.5 L979.46 379.18 L980.69 380.86 L981.91 382.56 L983.12 384.26 L984.31 385.97 L985.5 387.68 M997.3 406.07 L998.36 407.9 L999.39 409.75 L1000.37 411.62 L1001.31 413.52 L1002.21 415.43 L1003.07 417.37 M1009.9 438.1 L1010.43 440.15 L1010.95 442.2 L1011.46 444.26 L1011.96 446.32 L1012.46 448.37 L1012.95 450.43" stroke="#ff00ff" stroke-width="8.4" fill="none" stroke-linecap="round" stroke-linejoin="round"/>
<polygon points="206.1,1156.3 244.2,1134.3 244.2,1178.3" fill="#ff00ff"/>
<polygon points="254,944.5 292.1,922.5 292.1,966.5" fill="#ff00ff"/>
<polygon points="320.6,750.2 358.7,728.2 358.7,772.2" fill="#ff00ff"/>
<polygon points="459.3,493.3 497.4,471.3 497.4,515.3" fill="#ff00ff"/>
<polygon points="526.9,430.1 565,408.1 565,452.1" fill="#ff00ff"/>
<polygon points="593.7,391 631.8,369 631.8,413" fill="#ff00ff"/>
<polygon points="793.2,330.4 831.3,308.4 831.3,352.4" fill="#ff00ff"/>
<polygon points="871.6,319 909.7,297 909.7,341" fill="#ff00ff"/>
<polygon points="914.4,337.4 952.5,315.4 952.5,359.4" fill="#ff00ff"/>
<polygon points="970.2,402.6 1008.3,380.6 1008.3,424.6" fill="#ff00ff"/>
<polygon points="983.1,431.6 1021.2,409.6 1021.2,453.6" fill="#ff00ff"/>
<polygon points="990,459.2 1028.1,437.2 1028.1,481.2" fill="#ff00ff"/>
</g>
<path d="M1056.6 642.9 H1105.2 M1151.7 642.9 H1200.1" stroke="#000000" stroke-width="8" fill="none" stroke-linecap="round"/>
<rect x="1112.2" y="626.9" width="32" height="32" fill="#000000"/>
<text class="lg" transform="translate(1215.5,665) scale(1,1.012)">F200C200</text>
<path d="M1056.6 722.53 H1105.2 M1151.7 722.53 H1200.1" stroke="#ff0000" stroke-width="8" fill="none" stroke-linecap="round" stroke-dasharray="33 43.4"/>
<circle cx="1128.2" cy="722.53" r="18.3" fill="#ff0000"/>
<text class="lg" transform="translate(1215.5,744.63) scale(1,1.012)">F250C225</text>
<path d="M1056.6 802.16 H1105.2 M1151.7 802.16 H1200.1" stroke="#00ff00" stroke-width="8" fill="none" stroke-linecap="round" stroke-dasharray="5.5 40.2"/>
<polygon points="1128.2,776.96 1106.2,815.06 1150.2,815.06" fill="#00ff00"/>
<text class="lg" transform="translate(1215.5,824.26) scale(1,1.012)">F250C250</text>
<path d="M1056.6 881.79 H1105.2 M1151.7 881.79 H1200.1" stroke="#0000ff" stroke-width="8" fill="none" stroke-linecap="round" stroke-dasharray="40.6 25.05 5.8 25.05"/>
<polygon points="1128.2,906.59 1106.2,868.49 1150.2,868.49" fill="#0000ff"/>
<text class="lg" transform="translate(1215.5,903.89) scale(1,1.012)">F250C200</text>
<path d="M1056.6 961.42 H1105.2 M1151.7 961.42 H1200.1" stroke="#00ffff" stroke-width="8" fill="none" stroke-linecap="round" stroke-dasharray="29.5 25.45 5.3 25.45 5.3 25.45"/>
<polygon points="1105,961.42 1128.2,938.22 1151.4,961.42 1128.2,984.62" fill="#00ffff"/>
<text class="lg" transform="translate(1215.5,983.52) scale(1,1.012)">F225C200</text>
<path d="M1056.6 1041.05 H1105.2 M1151.7 1041.05 H1200.1" stroke="#ff00ff" stroke-width="8" fill="none" stroke-linecap="round" stroke-dasharray="13.1 21.45"/>
<polygon points="1103.2,1041.05 1141.3,1019.05 1141.3,1063.05" fill="#ff00ff"/>
<text class="lg" transform="translate(1215.5,1063.15) scale(1,1.012)">F225C225</text>
</svg></body></html>
